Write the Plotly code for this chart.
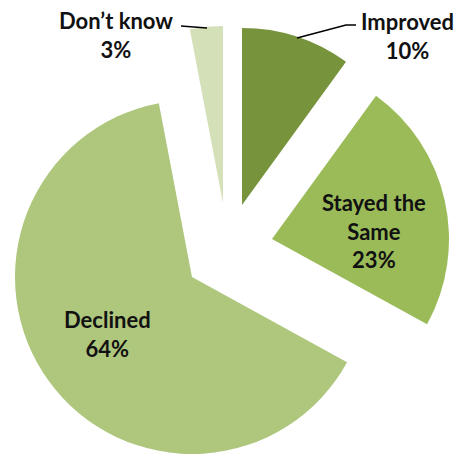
import plotly.graph_objects as go

categories = ["Improved", "Stayed the Same", "Declined", "Don’t know"]
values = [10, 23, 64, 3]
label_lines = ["Improved", "Stayed the<br>Same", "Declined", "Don’t know"]
colors = ["#77933C", "#9BBB59", "#AEC77D", "#D3E0B8"]

W, H = 464, 454
OFF = 8  # page body margin
R = 177
# exploded slice apex positions (page pixels) - layout
centers = [(242, 205), (272, 239), (192, 277), (223, 203)]
# label centres (page pixels) - layout
label_pos = [(407, 36), (374, 231), (107, 334), (116, 35)]

FONT = dict(family="Lato", size=22, color="#111111", weight="bold")


def px(x):
    return (x - OFF) / W


def py(y):
    return 1 - (y - OFF) / H


fig = go.Figure()
for i, cat in enumerate(categories):
    cx, cy = centers[i]
    cols = [colors[j] if j == i else "rgba(0,0,0,0)" for j in range(len(values))]
    fig.add_trace(go.Pie(
        labels=categories, values=values, sort=False, direction="clockwise", rotation=0,
        marker=dict(colors=cols, line=dict(width=0)),
        textinfo="none", textposition="none",
        showlegend=False, hoverinfo="skip",
        domain=dict(x=[px(cx - R), px(cx + R)], y=[py(cy + R), py(cy - R)]),
    ))

for i, cat in enumerate(categories):
    lx, ly = label_pos[i]
    fig.add_annotation(x=px(lx), y=py(ly), xref="paper", yref="paper",
                       xanchor="center", yanchor="middle", align="center",
                       text=f"{label_lines[i]}<br>{values[i]}%", showarrow=False, font=FONT)

# leader lines
fig.add_shape(type="path", xref="paper", yref="paper",
              path=f"M {px(297)} {py(38)} L {px(346)} {py(25)} L {px(356)} {py(25)}",
              line=dict(color="black", width=1.5))
fig.add_shape(type="line", xref="paper", yref="paper",
              x0=px(181), y0=py(26), x1=px(207), y1=py(28),
              line=dict(color="black", width=1.5))

fig.update_layout(width=W, height=H, margin=dict(l=0, r=0, t=0, b=0),
                  paper_bgcolor="white", plot_bgcolor="white")
fig.write_html("out.html")
